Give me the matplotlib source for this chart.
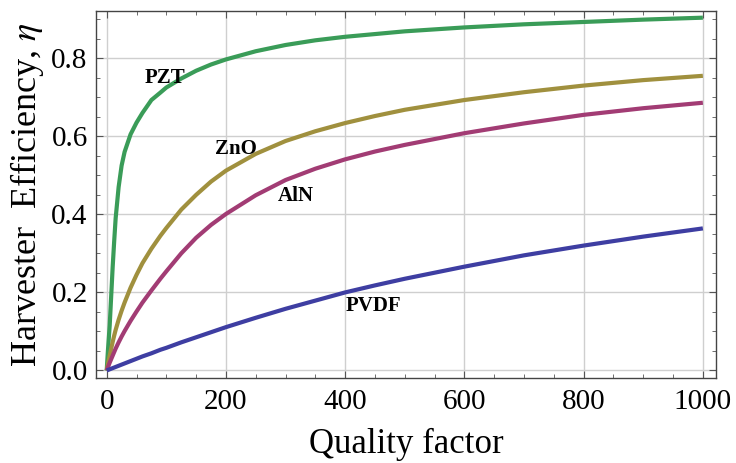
import numpy as np
import matplotlib
matplotlib.use("Agg")
import matplotlib.pyplot as plt
from matplotlib.ticker import MultipleLocator

# values, one list per material
quality = [0, 1, 2, 3, 5, 7.5, 10, 12.5, 15, 20, 25, 30, 40, 50, 60, 75, 90, 100,
           125, 150, 175, 200, 250, 300, 350, 400, 450, 500, 600, 700, 800, 900, 1000]
eta_pzt = [0.0, 0.025, 0.05, 0.072, 0.115, 0.19, 0.265, 0.33, 0.39, 0.47, 0.525,
           0.56, 0.605, 0.635, 0.66, 0.693, 0.712, 0.725, 0.748, 0.768, 0.784,
           0.797, 0.818, 0.834, 0.846, 0.855, 0.862, 0.869, 0.879, 0.887, 0.893,
           0.899, 0.904]
eta_zno = [0.0, 0.008, 0.016, 0.024, 0.038, 0.056, 0.073, 0.089, 0.104, 0.13, 0.153,
           0.174, 0.212, 0.245, 0.275, 0.312, 0.345, 0.365, 0.412, 0.45, 0.484,
           0.512, 0.555, 0.588, 0.613, 0.634, 0.652, 0.668, 0.693, 0.713, 0.730,
           0.744, 0.755]
eta_aln = [0.0, 0.004, 0.008, 0.012, 0.02, 0.029, 0.038, 0.047, 0.056, 0.072, 0.087,
           0.101, 0.127, 0.151, 0.174, 0.205, 0.235, 0.254, 0.3, 0.34, 0.373,
           0.401, 0.449, 0.488, 0.517, 0.541, 0.561, 0.578, 0.608, 0.633, 0.655,
           0.672, 0.686]
eta_pvdf = [0.0, 0.0006, 0.0012, 0.0018, 0.003, 0.0045, 0.006, 0.0075, 0.009, 0.012,
            0.015, 0.018, 0.024, 0.03, 0.036, 0.044, 0.053, 0.058, 0.072, 0.085,
            0.098, 0.111, 0.135, 0.158, 0.179, 0.2, 0.218, 0.235, 0.266, 0.295,
            0.32, 0.343, 0.364]

materials = ["PZT", "ZnO", "AlN", "PVDF"]
series = [eta_pzt, eta_zno, eta_aln, eta_pvdf]
colors = ["#3a9c58", "#a0903e", "#a23c74", "#3e3ea2"]
label_at = [(97, 0.75), (217, 0.567), (317, 0.447), (447, 0.166)]

plt.rcParams["font.family"] = ["Liberation Serif", "DejaVu Serif"]
plt.rcParams["mathtext.fontset"] = "stix"

fig = plt.figure(figsize=(7.36, 4.63), dpi=100)
ax = fig.add_axes([0.1304, 0.183, 0.8424, 0.794])

for name, eta, c, (lx, ly) in zip(materials, series, colors, label_at):
    ax.plot(quality, eta, color=c, lw=3.0, solid_capstyle="butt",
            solid_joinstyle="round", zorder=3)
    ax.text(lx, ly, name, fontsize=15, fontweight="bold", ha="center",
            va="center", zorder=4)

ax.set_xlim(-18, 1022)
ax.set_ylim(-0.02, 0.922)
ax.xaxis.set_major_locator(MultipleLocator(200))
ax.xaxis.set_minor_locator(MultipleLocator(50))
ax.yaxis.set_major_locator(MultipleLocator(0.2))
ax.yaxis.set_minor_locator(MultipleLocator(0.05))
ax.set_xticks([0, 200, 400, 600, 800, 1000])
ax.set_yticks([0.0, 0.2, 0.4, 0.6, 0.8])
ax.set_yticklabels(["0.0", "0.2", "0.4", "0.6", "0.8"])

ax.grid(True, which="major", color="#cfcfcf", lw=1.0, zorder=1)
ax.tick_params(which="both", direction="in", top=True, right=True,
               color="#555555", labelsize=21)
ax.tick_params(which="major", length=5, width=0.8)
ax.tick_params(which="minor", length=3, width=0.6)
ax.tick_params(axis="x", pad=8)
ax.tick_params(axis="y", pad=6)
for sp in ax.spines.values():
    sp.set_color("#444444")
    sp.set_linewidth(1.0)

ax.set_xlabel("Quality factor", fontsize=25, labelpad=9)
ax.set_ylabel("Harvester  Efficiency, $\\eta$", fontsize=26, labelpad=4)

fig.savefig("out.png", dpi=100)
